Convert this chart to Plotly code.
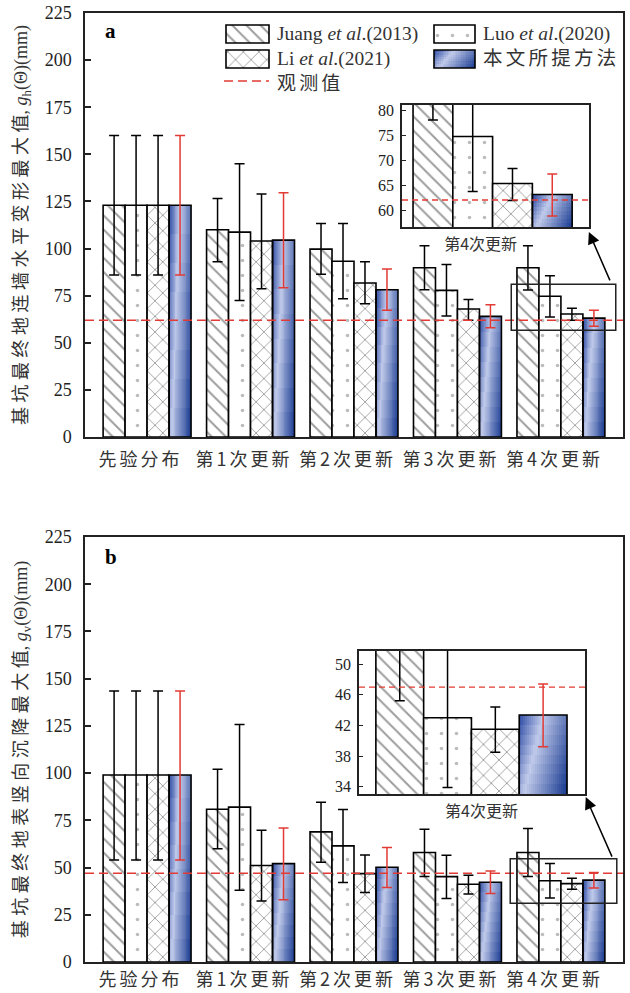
import numpy as np
import plotly.graph_objects as go

# ---------------- data ----------------
categories = ["先验分布", "第1次更新", "第2次更新", "第3次更新", "第4次更新"]
method_names = ["Juang <i>et al</i>.(2013)", "Luo <i>et al</i>.(2020)",
                "Li <i>et al</i>.(2021)", "本文所提方法"]

# (a) maximum horizontal deformation of the diaphragm wall, mm
a_juang = [123.0, 110.0, 99.7, 89.8, 89.8]
a_juang_hi = [160.0, 126.6, 113.3, 101.5, 101.5]
a_juang_lo = [86.0, 93.0, 86.3, 78.1, 78.0]
a_luo = [123.0, 108.7, 93.3, 77.8, 74.7]
a_luo_hi = [160.0, 145.0, 113.3, 91.6, 85.6]
a_luo_lo = [86.0, 72.5, 73.4, 64.2, 63.7]
a_li = [123.0, 104.0, 81.7, 67.9, 65.3]
a_li_hi = [160.0, 128.9, 93.0, 73.0, 68.3]
a_li_lo = [86.0, 78.7, 70.7, 61.9, 61.9]
a_ours = [123.0, 104.5, 78.1, 64.0, 63.1]
a_ours_hi = [160.0, 129.6, 89.1, 70.2, 67.2]
a_ours_lo = [86.0, 79.2, 67.2, 58.0, 58.8]
a_observed = 62.0

# (b) maximum vertical ground settlement, mm
b_juang = [99.0, 80.9, 68.9, 58.0, 58.0]
b_juang_hi = [143.5, 102.1, 84.6, 70.3, 70.7]
b_juang_lo = [54.0, 59.9, 52.8, 45.2, 45.2]
b_luo = [99.0, 82.0, 61.5, 45.2, 43.0]
b_luo_hi = [143.5, 125.7, 80.8, 56.5, 52.1]
b_luo_lo = [54.0, 38.0, 42.1, 33.6, 33.9]
b_li = [99.0, 51.1, 46.8, 41.2, 41.5]
b_li_hi = [143.5, 69.8, 56.7, 45.9, 44.4]
b_li_lo = [54.0, 32.3, 36.8, 36.0, 38.5]
b_ours = [99.0, 52.1, 50.2, 42.2, 43.35]
b_ours_hi = [143.5, 71.0, 60.6, 48.2, 47.4]
b_ours_lo = [54.0, 32.9, 39.4, 36.2, 39.2]
b_observed = 47.0

y_ticks = [0, 25, 50, 75, 100, 125, 150, 175, 200, 225]
inset_a_ticks = [60, 65, 70, 75, 80]
inset_b_ticks = [34, 38, 42, 46, 50]

# ---------------- geometry ----------------
W, H = 630, 993
ML, MR, MT, MB = 85, 7, 13, 31
PW, PH = W - ML - MR, H - MT - MB


def px_x(px):
    return (px - ML) / PW


def px_y(py):
    return 1 - (py - MT) / PH


BAR_W = 0.2125
OFFSETS = [-0.425 + k * BAR_W for k in range(4)]

SERIF = "Liberation Serif, Noto Sans CJK SC"
CJK = "Noto Sans CJK SC"
INK = "#222222"
RED = "#e23b35"
SP = "\u2006"  # narrow gap between CJK glyphs

PATTERNS = [
    dict(shape="\\", size=10, solidity=0.2, fgcolor="#3c3c3c", bgcolor="white"),
    dict(shape=".", size=15, solidity=0.045, fgcolor="#7a7a7a", bgcolor="white"),
    dict(shape="x", size=11, solidity=0.16, fgcolor="#3c3c3c", bgcolor="white"),
    None,
]
GRAD_SCALE = [[0.0, "#2a48a3"], [0.36, "#c0caea"], [1.0, "#15378f"]]

fig = go.Figure()


def gradient_patch(x0, x1, y_bottom, y_top, xa, ya):
    """Blue diagonal gradient filling a rectangle (drawn under a hollow bar)."""
    nx, ny = 24, 8
    xe = np.linspace(x0, x1, nx + 1)
    ye = np.linspace(y_bottom, y_top, ny + 1)
    u = (np.arange(nx) + 0.5) / nx
    v = (np.arange(ny) + 0.5) / ny
    z = u[None, :] - 0.2 * (2 * v[:, None] - 1)
    fig.add_trace(go.Heatmap(x=xe, y=ye, z=z, zmin=-0.2, zmax=1.2,
                             colorscale=GRAD_SCALE, showscale=False,
                             hoverinfo="skip", xaxis=xa, yaxis=ya))


def add_group(series, xs, xa, ya, y_floor=0.0):
    for k, (vals, hi, lo) in enumerate(series):
        vals = np.asarray(vals, float)
        up = np.asarray(hi, float) - vals
        dn = vals - np.asarray(lo, float)
        if k == 3:
            for xc, v in zip(xs, vals):
                x0 = xc + OFFSETS[3]
                gradient_patch(x0, x0 + BAR_W, y_floor, v, xa, ya)
            marker = dict(color="rgba(0,0,0,0)", line=dict(color="black", width=1.6))
            ecol = RED
        else:
            marker = dict(color="white", pattern=PATTERNS[k],
                          line=dict(color="black", width=1.6))
            ecol = "black"
        fig.add_trace(go.Bar(
            x=xs, y=vals, width=BAR_W, offset=OFFSETS[k], marker=marker,
            error_y=dict(type="data", symmetric=False, array=up, arrayminus=dn,
                         color=ecol, thickness=1.5, width=5),
            xaxis=xa, yaxis=ya, showlegend=False, hoverinfo="skip"))


xs_main = list(range(len(categories)))
series_a = [(a_juang, a_juang_hi, a_juang_lo), (a_luo, a_luo_hi, a_luo_lo),
            (a_li, a_li_hi, a_li_lo), (a_ours, a_ours_hi, a_ours_lo)]
series_b = [(b_juang, b_juang_hi, b_juang_lo), (b_luo, b_luo_hi, b_luo_lo),
            (b_li, b_li_hi, b_li_lo), (b_ours, b_ours_hi, b_ours_lo)]

add_group(series_a, xs_main, "x", "y")
add_group(series_b, xs_main, "x2", "y2")

# zoomed views of the last update step
inset_a_range = [56.6, 81.0]
inset_b_range = [33.05, 51.7]
last = len(categories) - 1
add_group([(s[0][last:], s[1][last:], s[2][last:]) for s in series_a], [0], "x3", "y3",
          y_floor=inset_a_range[0])
add_group([(s[0][last:], s[1][last:], s[2][last:]) for s in series_b], [0], "x4", "y4",
          y_floor=inset_b_range[0])

# ---------------- legend keys (panel a, top) ----------------
LEG_X = (220, 480)
LEG_Y = (13, 95)
key_boxes = [(226, 269, 25, 43), (434, 475, 25, 43), (226, 269, 50, 68), (434, 475, 50, 68)]
for k, (x0, x1, y0, y1) in enumerate(key_boxes):
    if k == 3:
        gradient_patch(x0, x1, y1, y0, "x5", "y5")
        marker = dict(color="rgba(0,0,0,0)", line=dict(color="black", width=1.6))
    else:
        marker = dict(color="white", pattern=PATTERNS[k], line=dict(color="black", width=1.6))
    fig.add_trace(go.Bar(x=[(x0 + x1) / 2], y=[y1 - y0], base=[y0], width=x1 - x0,
                         offset=-(x1 - x0) / 2, marker=marker, xaxis="x5", yaxis="y5",
                         showlegend=False, hoverinfo="skip"))

# ---------------- axes ----------------
dom_a = [px_y(437), px_y(13)]
dom_b = [px_y(962), px_y(537)]
ytitle_chars_a = " ".join("基坑最终地连墙水平变形最大值")
ytitle_chars_b = " ".join("基坑最终地表竖向沉降最大值")

xcommon = dict(range=[-0.6, 4.6], tickvals=xs_main,
               ticktext=[SP.join(c) for c in categories], automargin=False,
               ticks="", showline=True, mirror=True, linecolor=INK, linewidth=1.5,
               showgrid=False, zeroline=False, ticklabelshift=-8,
               tickfont=dict(family=CJK, size=18, color="#333333"))
ycommon = dict(range=[0, 225], tickvals=y_ticks, ticks="inside", ticklen=6, tickwidth=1.5,
               tickcolor=INK, showline=True, mirror=True, linecolor=INK, linewidth=1.5,
               showgrid=False, zeroline=False, ticklabelstandoff=8, automargin=False,
               tickfont=dict(family=SERIF, size=18, color=INK))

fig.update_layout(
    xaxis=dict(domain=[0, 1], anchor="y", ticklabelstandoff=6, **xcommon),
    yaxis=dict(domain=dom_a, anchor="x",
               title=dict(text=ytitle_chars_a + ", <i>g</i><sub>h</sub>(Θ)(mm)", standoff=12,
                          font=dict(family=SERIF, size=18, color="#333333")), **ycommon),
    xaxis2=dict(domain=[0, 1], anchor="y2", ticklabelstandoff=1, **xcommon),
    yaxis2=dict(domain=dom_b, anchor="x2",
                title=dict(text=ytitle_chars_b + ", <i>g</i><sub>v</sub>(Θ)(mm)", standoff=12,
                           font=dict(family=SERIF, size=18, color="#333333")), **ycommon),
)

inset_common_x = dict(tickvals=[0], ticktext=["第4次更新"], ticks="", showline=True, mirror=True,
                      linecolor=INK, linewidth=1.5, showgrid=False, zeroline=False,
                      automargin=False, ticklabelstandoff=2,
                      tickfont=dict(family=CJK, size=16, color="#333333"))
inset_common_y = dict(ticks="inside", ticklen=4, tickwidth=1.2, tickcolor=INK, showline=True,
                      mirror=True, linecolor=INK, linewidth=1.5, showgrid=False, zeroline=False,
                      automargin=False, ticklabelstandoff=3,
                      tickfont=dict(family=SERIF, size=16, color=INK))
fig.update_layout(
    xaxis3=dict(domain=[px_x(402), px_x(589)], anchor="y3", range=[-0.484, 0.515],
                ticklabelshift=-12, **inset_common_x),
    yaxis3=dict(domain=[px_y(227), px_y(105)], anchor="x3", range=inset_a_range,
                tickvals=inset_a_ticks, **inset_common_y),
    xaxis4=dict(domain=[px_x(359), px_x(585)], anchor="y4", range=[-0.50, 0.505],
                ticklabelshift=10, **inset_common_x),
    yaxis4=dict(domain=[px_y(794), px_y(651)], anchor="x4", range=inset_b_range,
                tickvals=inset_b_ticks, **inset_common_y),
    xaxis5=dict(domain=[px_x(LEG_X[0]), px_x(LEG_X[1])], anchor="y5", range=list(LEG_X),
                visible=False),
    yaxis5=dict(domain=[px_y(LEG_Y[1]), px_y(LEG_Y[0])], anchor="x5",
                range=[LEG_Y[1], LEG_Y[0]], visible=False),
)

# ---------------- reference lines, zoom boxes, arrows ----------------
dash = dict(color=RED, width=1.5, dash="9px,5px")
shapes = [
    dict(type="line", xref="x domain", yref="y", x0=0, x1=1, y0=a_observed, y1=a_observed, line=dash),
    dict(type="line", xref="x2 domain", yref="y2", x0=0, x1=1, y0=b_observed, y1=b_observed, line=dash),
    dict(type="line", xref="x3 domain", yref="y3", x0=0, x1=1, y0=a_observed, y1=a_observed,
         line=dict(color=RED, width=1.3, dash="6px,4px")),
    dict(type="line", xref="x4 domain", yref="y4", x0=0, x1=1, y0=b_observed, y1=b_observed,
         line=dict(color=RED, width=1.3, dash="6px,4px")),
    dict(type="rect", xref="x", yref="y", x0=3.52, x1=4.53, y0=inset_a_range[0], y1=inset_a_range[1],
         line=dict(color=INK, width=1.5)),
    dict(type="rect", xref="x2", yref="y2", x0=3.51, x1=4.54, y0=31.1, y1=54.6,
         line=dict(color=INK, width=1.5)),
    dict(type="line", xref="paper", yref="paper", x0=px_x(224), x1=px_x(269), y0=px_y(81), y1=px_y(81),
         line=dash),
]
fig.update_layout(shapes=shapes)

annotations = [
    dict(xref="x", yref="y", axref="x", ayref="y", x=4.27, y=108.8, ax=4.48, ay=82.3,
         text="", showarrow=True, arrowhead=2, arrowsize=1.6, arrowwidth=1.5, arrowcolor="black"),
    dict(xref="x2", yref="y2", axref="x2", ayref="y2", x=4.24, y=87.3, ax=4.50, ay=55.0,
         text="", showarrow=True, arrowhead=2, arrowsize=1.6, arrowwidth=1.5, arrowcolor="black"),
    dict(xref="paper", yref="paper", x=px_x(103), y=px_y(31), xanchor="left", yanchor="middle",
         text="<b>a</b>", showarrow=False, font=dict(family=SERIF, size=21, color="black")),
    dict(xref="paper", yref="paper", x=px_x(103), y=px_y(557), xanchor="left", yanchor="middle",
         text="<b>b</b>", showarrow=False, font=dict(family=SERIF, size=21, color="black")),
]
legend_text_pos = [(275, 34), (481, 34), (275, 59), (481, 59)]
legend_labels = method_names[:3] + [SP.join(method_names[3])]
for name, (tx, ty) in zip(legend_labels, legend_text_pos):
    annotations.append(dict(xref="paper", yref="paper", x=px_x(tx), y=px_y(ty), xanchor="left",
                            yanchor="middle", text=name, showarrow=False,
                            font=dict(family=SERIF, size=19.5, color="#333333")))
annotations.append(dict(xref="paper", yref="paper", x=px_x(275), y=px_y(81), xanchor="left",
                        yanchor="middle", text=SP.join("观测值"), showarrow=False,
                        font=dict(family=CJK, size=19, color="#333333")))
fig.update_layout(annotations=annotations)

fig.update_layout(width=W, height=H, margin=dict(l=ML, r=MR, t=MT, b=MB, pad=0, autoexpand=False),
                  paper_bgcolor="white", plot_bgcolor="white", showlegend=False,
                  barmode="overlay", font=dict(family=SERIF, color=INK))

fig.write_html("out.html")
